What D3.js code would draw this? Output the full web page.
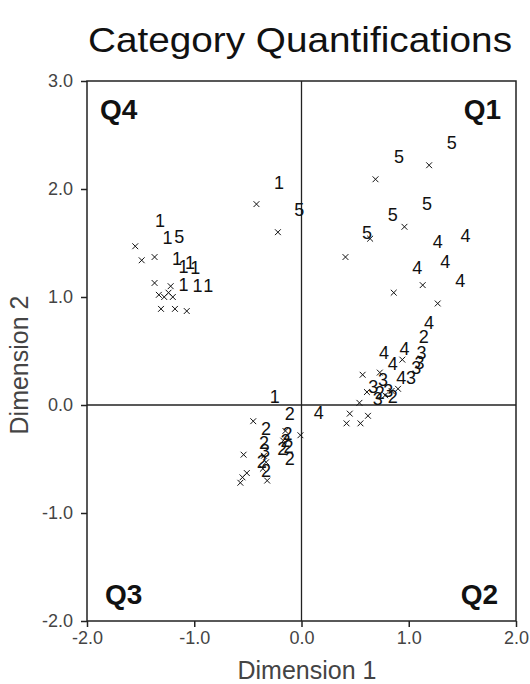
<!DOCTYPE html>
<html>
<head>
<meta charset="utf-8">
<script src="https://cdnjs.cloudflare.com/ajax/libs/d3/7.8.5/d3.min.js"></script>
<style>
  body { margin: 0; background: #fff; }
  text { font-family: Arial, "Liberation Sans", sans-serif; }
</style>
</head>
<body>
<script>
const width = 530
const height = 684

// object points (x markers)
const crossX = [-1.55, -1.49, -1.37, -1.37, -1.22, -1.33, -1.28, -1.24, -1.20, -1.31, -1.18, -1.07,
  -0.42, -0.22,
  1.19, 0.69, 0.96, 0.64, 0.41, 1.13, 0.86, 1.27, 0.94, 0.73, 0.57, 0.90, 0.61, 0.54, 0.45, 0.62, 0.42, 0.55, 0.78, 0.84,
  -0.45, -0.01, -0.54, -0.36, -0.55, -0.51, -0.57, -0.32, -0.17, -0.15, -0.35, -0.33]
const crossY = [1.47, 1.34, 1.37, 1.13, 1.10, 1.02, 1.00, 1.04, 1.00, 0.89, 0.89, 0.87,
  1.86, 1.60,
  2.22, 2.09, 1.65, 1.54, 1.37, 1.11, 1.04, 0.94, 0.42, 0.30, 0.28, 0.15, 0.12, 0.02, -0.08, -0.10, -0.17, -0.17, 0.09, 0.13,
  -0.15, -0.28, -0.46, -0.59, -0.67, -0.63, -0.72, -0.70, -0.33, -0.24, -0.47, -0.53]

// category points (labelled by category code)
const catLabel = ['1', '1', '5', '1', '1', '1', '1', '1', '1', '1', '1', '5',
  '5', '5', '5', '5', '5', '4', '4', '4', '4', '4', '4', '2', '3', '3', '3', '4', '4', '4', '4', '3', '3',
  '3', '2', '3', '2', '3', '4',
  '1', '2', '2', '2', '2', '2', '2', '2', '3', '2', '2', '2']
const catX = [-1.32, -1.25, -1.14, -1.16, -1.10, -1.04, -0.99, -1.10, -0.97, -0.87, -0.21, -0.02,
  1.40, 0.91, 1.17, 0.85, 0.61, 1.27, 1.53, 1.34, 1.08, 1.48, 1.19, 1.14, 1.12, 1.10, 1.07, 0.96, 0.85, 0.77, 0.93, 1.02, 0.76,
  0.67, 0.73, 0.81, 0.85, 0.71, 0.16,
  -0.25, -0.11, -0.33, -0.13, -0.15, -0.12, -0.11, -0.35, -0.34, -0.37, -0.33, -0.18]
const catY = [1.71, 1.55, 1.56, 1.36, 1.28, 1.32, 1.27, 1.12, 1.11, 1.11, 2.06, 1.81,
  2.43, 2.30, 1.87, 1.76, 1.60, 1.51, 1.57, 1.33, 1.27, 1.15, 0.76, 0.63, 0.49, 0.39, 0.35, 0.52, 0.38, 0.49, 0.25, 0.25, 0.24,
  0.17, 0.12, 0.13, 0.08, 0.06, -0.07,
  0.08, -0.08, -0.22, -0.26, -0.33, -0.38, -0.50, -0.35, -0.42, -0.52, -0.61, -0.40]

const xTicks = [-2, -1, 0, 1, 2]
const yTicks = [-2, -1, 0, 1, 2, 3]
const quadrants = ['Q1', 'Q2', 'Q3', 'Q4']

const margin = { top: 81, right: 14, bottom: 63, left: 87 }

let svg = d3.select('body').append('svg')
  .attr('width', width)
  .attr('height', height)

const x = d3.scaleLinear().domain([-2, 2]).range([margin.left, width - margin.right])
const y = d3.scaleLinear().domain([-2, 3]).range([height - margin.bottom, margin.top])

// title
svg.append('text')
  .attr('x', 300)
  .attr('y', 52)
  .attr('text-anchor', 'middle')
  .attr('font-size', 35)
  .attr('textLength', 424)
  .attr('lengthAdjust', 'spacingAndGlyphs')
  .attr('fill', '#111')
  .text('Category Quantifications')

// axes
const fmt = (d) => d.toFixed(1)
let xAxis = svg.append('g')
  .attr('transform', `translate(0,${y(-2)})`)
  .call(d3.axisBottom(x).tickValues(xTicks).tickSize(6).tickPadding(4).tickFormat(fmt))
let yAxis = svg.append('g')
  .attr('transform', `translate(${x(-2)},0)`)
  .call(d3.axisLeft(y).tickValues(yTicks).tickSize(6).tickPadding(8).tickFormat(fmt))

for (let ax of [xAxis, yAxis]) {
  ax.select('.domain').remove()
  ax.selectAll('line').attr('stroke', '#222').attr('stroke-width', 1.5)
  ax.selectAll('text')
    .attr('font-size', 18)
    .attr('fill', '#444')
    .attr('font-family', 'Arial, "Liberation Sans", sans-serif')
}

// frame + zero lines
svg.append('rect')
  .attr('x', x(-2))
  .attr('y', y(3))
  .attr('width', x(2) - x(-2))
  .attr('height', y(-2) - y(3))
  .attr('fill', 'none')
  .attr('stroke', '#222')
  .attr('stroke-width', 1.5)

svg.append('line')
  .attr('x1', x(0)).attr('x2', x(0))
  .attr('y1', y(3)).attr('y2', y(-2))
  .attr('stroke', '#222').attr('stroke-width', 1.3)
svg.append('line')
  .attr('x1', x(-2)).attr('x2', x(2))
  .attr('y1', y(0)).attr('y2', y(0))
  .attr('stroke', '#222').attr('stroke-width', 1.3)

// axis titles
svg.append('text')
  .attr('x', 307)
  .attr('y', 679)
  .attr('text-anchor', 'middle')
  .attr('font-size', 25)
  .attr('fill', '#444')
  .text('Dimension 1')

svg.append('text')
  .attr('transform', `translate(28,365) rotate(-90)`)
  .attr('text-anchor', 'middle')
  .attr('font-size', 25)
  .attr('fill', '#444')
  .text('Dimension 2')

// quadrant labels
const qPos = { Q1: [2, 3, 'end', 15, 38], Q2: [2, -2, 'end', 18, -17], Q3: [-2, -2, 'start', 18, -17], Q4: [-2, 3, 'start', 13, 38] }
svg.append('g').selectAll('text')
  .data(quadrants)
  .enter()
  .append('text')
  .attr('x', (d) => x(qPos[d][0]) + (qPos[d][2] === 'end' ? -qPos[d][3] : qPos[d][3]))
  .attr('y', (d) => y(qPos[d][1]) + qPos[d][4])
  .attr('text-anchor', (d) => qPos[d][2])
  .attr('font-family', '"Liberation Serif", "Times New Roman", serif')
  .attr('font-weight', 'bold')
  .attr('font-size', 28)
  .attr('fill', '#111')
  .text((d) => d)

// x markers
const crosses = crossX.map((d, i) => ({ x: d, y: crossY[i] }))
svg.append('g').selectAll('path')
  .data(crosses)
  .enter()
  .append('path')
  .attr('d', d3.symbol(d3.symbolTimes, 24))
  .attr('transform', (d) => `translate(${x(d.x)},${y(d.y)})`)
  .attr('fill', 'none')
  .attr('stroke', '#111')
  .attr('stroke-width', 1)

// category labels
const cats = catLabel.map((d, i) => ({ label: d, x: catX[i], y: catY[i] }))
svg.append('g').selectAll('text')
  .data(cats)
  .enter()
  .append('text')
  .attr('x', (d) => x(d.x))
  .attr('y', (d) => y(d.y))
  .attr('dy', '0.36em')
  .attr('text-anchor', 'middle')
  .attr('font-size', 18)
  .attr('fill', '#111')
  .text((d) => d.label)
</script>
</body>
</html>
